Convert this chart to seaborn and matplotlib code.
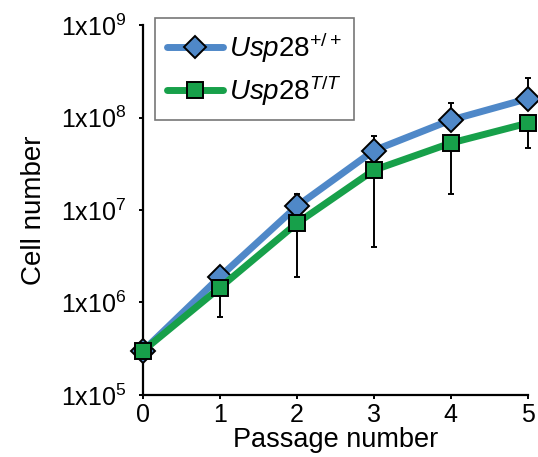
import numpy as np
import pandas as pd
import matplotlib
matplotlib.use("Agg")
import matplotlib.pyplot as plt
from matplotlib.ticker import FixedLocator, NullLocator
import seaborn as sns

# values (cells per passage)
passage = [0, 1, 2, 3, 4, 5]
wt_mean = [3.0e5, 1.9e6, 1.1e7, 4.4e7, 9.4e7, 1.6e8]
wt_upper = [3.0e5, 2.3e6, 1.5e7, 6.3e7, 1.45e8, 2.7e8]
tt_mean = [3.0e5, 1.45e6, 7.2e6, 2.7e7, 5.3e7, 8.7e7]
tt_lower = [3.0e5, 7.0e5, 1.9e6, 4.0e6, 1.5e7, 4.7e7]

wt_label = r"$\mathit{Usp28^{+/+}}$"
tt_label = r"$\mathit{Usp28^{T/T}}$"
y_ticks = [1e5, 1e6, 1e7, 1e8, 1e9]
y_ticklabels = [r"1x10$^{5}$", r"1x10$^{6}$", r"1x10$^{7}$", r"1x10$^{8}$", r"1x10$^{9}$"]

blue = "#4f88c8"
green = "#17a04a"

sns.set_style("ticks", {"text.color": "black", "axes.labelcolor": "black",
                        "xtick.color": "black", "ytick.color": "black",
                        "axes.edgecolor": "black"})
plt.rcParams["font.family"] = ["Liberation Sans", "DejaVu Sans"]
plt.rcParams["mathtext.fontset"] = "custom"
plt.rcParams["mathtext.rm"] = "Liberation Sans"
plt.rcParams["mathtext.it"] = "Liberation Sans:italic"

df = pd.DataFrame({
    "Passage number": passage * 2,
    "Cell number": wt_mean + tt_mean,
    "genotype": [wt_label] * len(passage) + [tt_label] * len(passage),
})

fig = plt.figure(figsize=(5.38, 4.57), dpi=100)
ax = fig.add_axes([0.266, 0.136, 0.715, 0.809])

# error bars: upper only for wild type, lower only for T/T
wt_err = [np.zeros(len(passage)), np.array(wt_upper) - np.array(wt_mean)]
tt_err = [np.array(tt_mean) - np.array(tt_lower), np.zeros(len(passage))]
ax.errorbar(passage, wt_mean, yerr=wt_err, fmt="none", ecolor="black",
            elinewidth=1.4, capsize=2, capthick=1.4, zorder=2, clip_on=False)
ax.errorbar(passage, tt_mean, yerr=tt_err, fmt="none", ecolor="black",
            elinewidth=1.4, capsize=2, capthick=1.4, zorder=2, clip_on=False)

sns.lineplot(data=df, x="Passage number", y="Cell number", hue="genotype",
             style="genotype", palette=[blue, green], markers=["D", "s"],
             dashes=False, linewidth=5, markersize=12, markeredgecolor="black",
             markeredgewidth=1.4, ax=ax, zorder=3, clip_on=False)
# diamond a bit smaller than the square
ax.lines[-2].set_markersize(9.5)
ax.lines[-1].set_markersize(14)

ax.set_yscale("log")
ax.set_xlim(0, 5)
ax.set_ylim(1e5, 1e9)
ax.yaxis.set_major_locator(FixedLocator(y_ticks))
ax.yaxis.set_minor_locator(NullLocator())
ax.set_yticklabels(y_ticklabels)
ax.set_xticks(passage)
ax.tick_params(axis="both", labelsize=18, length=3, width=1.4, colors="black")
ax.tick_params(axis="y", pad=9)
ax.tick_params(axis="x", pad=3)
ax.set_xlabel("Passage number", fontsize=19.5, labelpad=0, color="black")
ax.set_ylabel("Cell number", fontsize=20, labelpad=10, color="black")
for s in ["left", "bottom"]:
    ax.spines[s].set_linewidth(1.6)
    ax.spines[s].set_color("black")
sns.despine(ax=ax)

handles, labels = ax.get_legend_handles_labels()
for h in handles:
    h.set_markersize(11)
leg = ax.legend(handles, labels, loc="upper left", bbox_to_anchor=(0.288, 0.961),
                bbox_transform=fig.transFigure, fontsize=20,
                frameon=True, fancybox=False, edgecolor="#555555",
                handlelength=2.0, handletextpad=0.2, borderpad=0.45,
                labelspacing=0.3, borderaxespad=0)
leg.get_frame().set_linewidth(1.2)
for t in leg.get_texts():
    t.set_color("black")

fig.savefig("out.png", dpi=100)
